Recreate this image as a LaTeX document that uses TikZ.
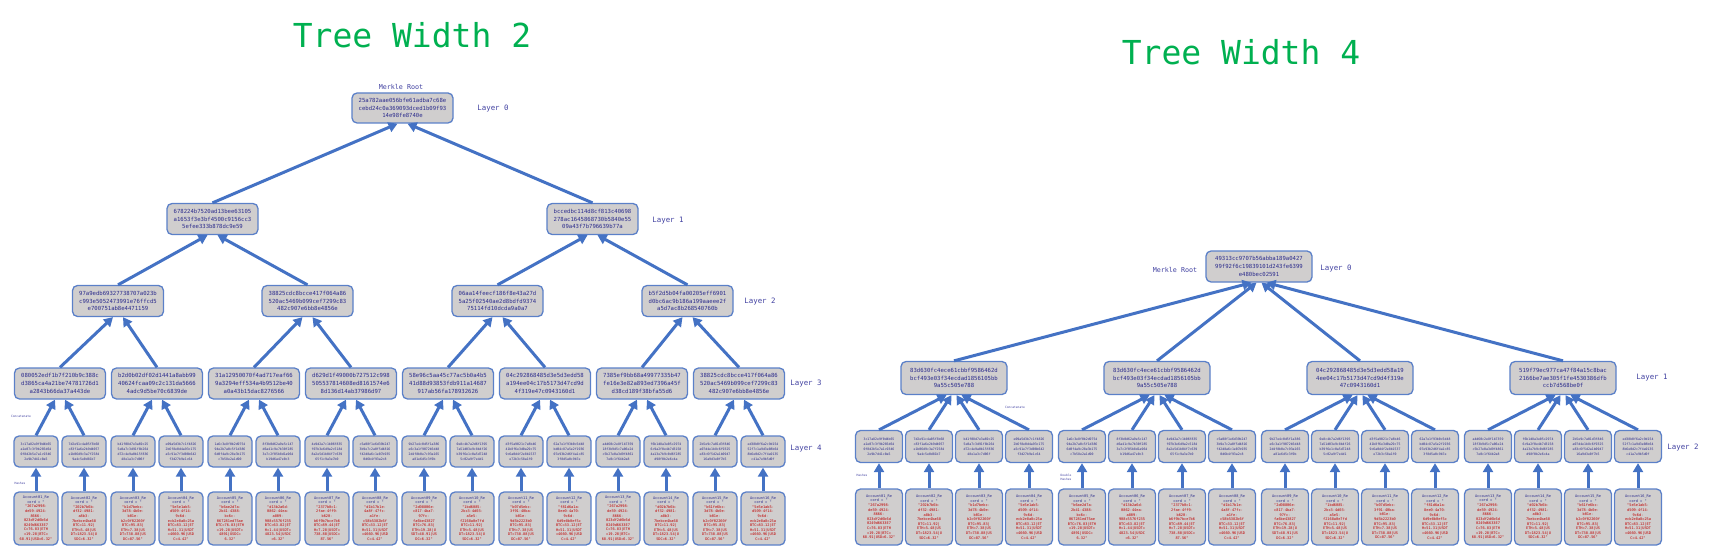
\documentclass[tikz,border=0pt]{standalone}
\usepackage{fontspec}
\newfontfamily\monof{DejaVu Sans Mono}
\usetikzlibrary{arrows.meta}
\definecolor{arrowblue}{HTML}{4472C4}
\definecolor{boxblue}{HTML}{5B80C8}
\definecolor{boxfill}{HTML}{D0CECE}
\definecolor{hashnavy}{HTML}{2B2B8C}
\definecolor{labelblue}{HTML}{4040A0}
\definecolor{leafred}{HTML}{C00000}
\definecolor{titlegreen}{HTML}{00B050}
\newcommand\defh[2]{\expandafter\def\csname hf#1\endcsname{#2}}
\newcommand\defleaf[9]{\expandafter\def\csname lf#1\endcsname{#2\\#3\\#4\\#5\\#6\\#7\\#8\\#9}}
\defh{1}{3c17a82e9f0d4b65\\a1e07c3f9b285d64\\0f8d2b5e7a1c9346\\2e9b7d41c0a5}
\defh{2}{7d2e91c4a05f3b68\\c83f1a6e2b9d4057\\e1b06d9c3a7f2584\\9a4c5e0d81b7}
\defh{3}{b41f08d7e3a69c25\\5e0a7c3d91f8b264\\d72c4e9a0b15f836\\48e1a3c7d06f}
\defh{4}{e09a5d3b7c1f4826\\2b6f8e0d4a93c175\\a5c91e7f3d08b642\\f3d27b9e1c64}
\defh{5}{1a6c3e8f0b2d9754\\94e2b7a0c5f1d386\\6d0f4a9c28e3b175\\c7b58e2a1d90}
\defh{6}{8f3b0d62a9e5c147\\d6a41c9e7b30f285\\3e7c2f05b8d1a964\\b19d6a47e0c3}
\defh{7}{4e9d2a7c1b06f835\\f07b3e6d9a2c5184\\8a2e5d1b04f7c639\\65f1c9a3e7b0}
\defh{8}{c5a08f1e6d39b247\\3b9e7c2a0f5d4816\\f42d8a6c1e07b935\\0d6b4f93a2c8}
\defh{9}{9b27e4c0d5f1a386\\e6c3a1f9072b5d48\\2d4f8b0e7c93a165\\a81e6d5c3f0b}
\defh{10}{0e8c4b7a2d6f1395\\7a51d03e9c8b4f26\\b39f6e1c0a5d7248\\5c02a9f7e4d1}
\defh{11}{d3f5a9021c7e8b46\\41b8f6e3d0a29c75\\9c6a0d4f2e8b1537\\e72b3c58a1f0}
\defh{12}{62a7e1f93b0c5d48\\bd04c87a5e2f1936\\07e93b2d6f4a1c85\\3f8d5a0c9b7e}
\defh{13}{a4d60c2e8f1b7359\\18f3b9d5c7a06e24\\c5b27e0a3d9f4861\\7e0c1f64b2a8}
\defh{14}{f6b1d8a3e05c2974\\6c9a2f0e4b7d3158\\4a13e7b9c0d6f285\\d98f0b2e6c4a}
\defh{15}{2b5e9c7a01d3f846\\a07d4e1b8c6f9325\\e83c6f5d2a1b0947\\16a9d3e0f7b5}
\defh{16}{ed38b0f6a2c9d154\\52f7c1a9d3e08b64\\8b6e0d2c7f4a9135\\c41a7e9b5d0f}
\defleaf{1}{"267a2998-}{de59-4924-}{8666-}{023df2d6b6d}{0249d6633E7}{C=76.83|ETH}{=19.28|BTC=}{68.91|USD=6.32"}
\defleaf{2}{"202b7b6b-}{df32-4981-}{a8b3-}{7bebce4ba68}{BTC=11.92|}{ETH=5.48|US}{DT=1823.54|U}{SDC=6.32"}
\defleaf{3}{"b1d7bebc-}{3d78-4b0e-}{b01e-}{b2c0f02260f}{BTC=95.83|}{ETH=7.38|US}{DT=738.88|US}{DC=87.56"}
\defleaf{4}{"5e5e1ab5-}{d509-4f14-}{9c6d-}{ecb2e8a8c25a}{BTC=83.12|ET}{H=51.31|USDT}{=4660.96|USD}{C=4.42"}
\defleaf{5}{"b6ae2d7a-}{2b41-4388-}{bc6c-}{067281ed75ae}{BTC=76.83|ETH}{=19.28|USDT=}{4891|USDC=}{6.32"}
\defleaf{6}{"d13b2a6d-}{0862-44ea-}{a809-}{908c5576f235}{BTC=63.82|ET}{H=1.44|USDT=}{4823.54|USDC}{=6.32"}
\defleaf{7}{"2377b0c1-}{2fae-4ff9-}{b620-}{b6f9b7bce7b6}{BTC=89.44|ET}{H=7.28|USDT=}{738.88|USDC=}{87.56"}
\defleaf{8}{"d1b17b1e-}{4a8f-47fc-}{a1fe-}{c58b5382b6f}{BTC=33.12|ET}{H=51.31|USDT}{=4660.96|USD}{C=4.42"}
\defleaf{9}{"2d08806e-}{c817-4ba7-}{97fc-}{fa6be43827}{BTC=76.83|}{ETH=19.28|U}{SDT=48.91|US}{DC=6.32"}
\defleaf{10}{"1bd6085-}{2bc3-4d03-}{a5e5-}{f2168a0e7fd}{BTC=11.92|}{ETH=5.48|US}{DT=1823.54|U}{SDC=6.32"}
\defleaf{11}{"b07d5ebc-}{3f91-40ba-}{b01e-}{9d5b2223b0}{BTC=95.83|}{ETH=7.38|US}{DT=738.88|US}{DC=87.56"}
\defleaf{12}{"f81d6a1a-}{8ee0-4a70-}{9c6d-}{6d9e8b0ef5c}{BTC=33.12|ET}{H=51.31|USDT}{=4660.96|USD}{C=4.42"}
\defleaf{13}{"267a2998-}{de59-4924-}{8666-}{023df2d6b6d}{0249d6633E7}{C=76.83|ETH}{=19.28|BTC=}{68.91|USD=6.32"}
\defleaf{14}{"d02b7b6b-}{df32-4981-}{a8b3-}{7bebce4ba68}{BTC=11.92|}{ETH=5.48|US}{DT=1823.54|U}{SDC=6.32"}
\defleaf{15}{"b61fe6bc-}{3d78-4b0e-}{b01e-}{b2c0f02260f}{BTC=95.83|}{ETH=7.38|US}{DT=738.88|US}{DC=87.56"}
\defleaf{16}{"5e5e1ab5-}{d509-4f14-}{9c6d-}{ecb2e8a8c25a}{BTC=83.12|ET}{H=51.31|USDT}{=4660.96|USD}{C=4.42"}
\newcommand\leaftext[1]{\textcolor{hashnavy}{Account\ifnum#1<10 0\fi#1\_Re}\\\textcolor{hashnavy}{cord = "}\\\csname lf#1\endcsname}
\tikzset{
  hbox/.style={draw=boxblue, line width=1.3pt, fill=boxfill, rounded corners=5pt, align=center, inner sep=1pt, text=hashnavy, font=\monof\fontsize{5.6}{7.6}\selectfont},
  bigbox/.style={hbox, minimum width=91pt, minimum height=31pt},
  smallbox/.style={hbox, minimum width=44pt, minimum height=31pt, font=\monof\fontsize{3.2}{5}\selectfont},
  leafbox/.style={hbox, minimum width=44pt, minimum height=53pt, text=leafred, font=\monof\fontsize{3.6}{4.6}\selectfont},
  conn/.style={draw=arrowblue, line width=3pt, -{Triangle[length=9pt,width=10pt]}},
  lab/.style={text=labelblue, font=\monof\fontsize{7.4}{9}\selectfont},
  tinylab/.style={text=labelblue, font=\monof\fontsize{3}{3.8}\selectfont, align=left},
  titlelab/.style={text=titlegreen, font=\monof\fontsize{33}{36}\selectfont},
}
\begin{document}
\begin{tikzpicture}[x=1pt,y=-1pt]
\useasboundingbox (0,0) rectangle (1713,548);
% titles
\node[titlelab] (t2) at (412,35) {Tree Width 2};
\node[titlelab] (t4) at (1241,52) {Tree Width 4};

% ===== left tree (width 2) =====
\node[bigbox, minimum width=101pt, minimum height=30pt] (lroot) at (402.5,108) {25a782aae056bfe61adba7c68e\\cebd24c0a369093dced1b09f93\\14e98fe8740e};
\node[lab, font=\monof\fontsize{6.7}{8}\selectfont] (lmr) at (401,87) {Merkle Root};
\node[lab] (ll0) at (493,109) {Layer 0};
\node[bigbox] (l1-1) at (212.5,219) {678224b7520ad13bee63105\\a1653f3e3bf4500c9156cc3\\5efee333b878dc9e59};
\node[bigbox] (l1-2) at (592.5,219) {bccedbc114d8cf813c40698\\278ac1645868730b5840e55\\09a43f7b796639b77a};
\node[lab] (ll1) at (668,221) {Layer 1};
\node[bigbox] (l2-1) at (118,301) {97a9edb69327738707a023b\\c993e5052473991e76ffcd5\\e700751ab8e4471159};
\node[bigbox] (l2-2) at (307.5,301) {38825cdc8bcce417f064a86\\520ac5469b099cef7299c83\\482c907e6bb8e4856e};
\node[bigbox] (l2-3) at (497.5,301) {06aa14feecf186f8e43a27d\\5a25f02540ae2d8bdfd9374\\75114fd10dcda9a0a7};
\node[bigbox] (l2-4) at (687.5,301) {b5f2d5b04fa00205eff6901\\d0bc6ac9b186a199aaeee2f\\a5d7ac8b268540760b};
\node[lab] (ll2) at (760,302) {Layer 2};
\node[bigbox] (l3-1) at (60,383.5) {080052edf1b7f210b9c388c\\d3865ca4a21be74781726d1\\a2843b66da37a443de};
\node[bigbox] (l3-2) at (157,383.5) {b2d0b02df02d1441a8abb99\\40624fcaa09c2c131da5666\\4adc9d5be70c6839de};
\node[bigbox] (l3-3) at (254,383.5) {31a12950070f4ad717eaf66\\9a3294eff534a4b9512be40\\a0a43b15dac8276566};
\node[bigbox] (l3-4) at (351,383.5) {d629d1f49000b727512c998\\505537814608ed8161574e6\\8d136d14ab37986d97};
\node[bigbox] (l3-5) at (448,383.5) {58e96c5aa45c77ac5b0a4b5\\41d88d93853fdb911a14687\\917ab56fa178932626};
\node[bigbox] (l3-6) at (545,383.5) {04c292868485d3e5d3edd58\\a194ee04c17b5173d47cd9d\\4f319e47c0943160d1};
\node[bigbox] (l3-7) at (642,383.5) {7385ef9bb68a49977335b47\\fe16e3e82a893ed7396a45f\\d38cd189f38bfa55d6};
\node[bigbox] (l3-8) at (739,383.5) {38825cdc8bcce417f064a86\\520ac5469b099cef7299c83\\482c907e6bb8e4856e};
\node[lab] (ll3) at (806,383.5) {Layer 3};
\node[lab] (ll4) at (806,449) {Layer 4};
\node[tinylab] (lcat) at (21,416) {Concatenate};
\node[tinylab] (lhsh) at (20,483) {Hashes};
\foreach \i in {1,...,16}{
  \pgfmathsetmacro\xx{60+97*floor((\i-1)/2)+48*mod(\i-1,2)-24}
  \node[smallbox] (l4-\i) at (\xx,451.5) {\csname hf\i\endcsname};
  \node[leafbox] (lleaf-\i) at (\xx,518.5) {\leaftext{\i}};
  \draw[conn] (lleaf-\i.north) -- (l4-\i.south);
}
\foreach \k in {1,...,8}{
  \pgfmathtruncatemacro\a{2*\k-1}
  \pgfmathtruncatemacro\b{2*\k}
  \draw[conn] (l4-\a.north) -- ([xshift=-5pt]l3-\k.south);
  \draw[conn] (l4-\b.north) -- ([xshift=5pt]l3-\k.south);
}
\foreach \k in {1,...,4}{
  \pgfmathtruncatemacro\a{2*\k-1}
  \pgfmathtruncatemacro\b{2*\k}
  \draw[conn] (l3-\a.north) -- ([xshift=-5pt]l2-\k.south);
  \draw[conn] (l3-\b.north) -- ([xshift=5pt]l2-\k.south);
}
\foreach \k in {1,2}{
  \pgfmathtruncatemacro\a{2*\k-1}
  \pgfmathtruncatemacro\b{2*\k}
  \draw[conn] (l2-\a.north) -- ([xshift=-5pt]l1-\k.south);
  \draw[conn] (l2-\b.north) -- ([xshift=5pt]l1-\k.south);
}
\draw[conn] (l1-1.north) -- ([xshift=-5pt]lroot.south);
\draw[conn] (l1-2.north) -- ([xshift=5pt]lroot.south);

% ===== right tree (width 4) =====
\node[bigbox, minimum width=106pt, minimum height=31pt] (rroot) at (1259,266.5) {49313cc9707b56abba189a0427\\99f92f6c19839101d243fe6399\\e480bec02591};
\node[lab, font=\monof\fontsize{6.7}{8}\selectfont] (rmr) at (1175,270) {Merkle Root};
\node[lab] (rl0) at (1336,269) {Layer 0};
\node[bigbox, minimum width=106pt, minimum height=33pt] (r1-1) at (954,378) {83d630fc4ece61cbbf9586462d\\bcf493e03f34ecdad1856105bb\\9a55c505e788};
\node[bigbox, minimum width=106pt, minimum height=33pt] (r1-2) at (1157,378) {83d630fc4ece61cbbf9586462d\\bcf493e03f34ecdad1856105bb\\9a55c505e788};
\node[bigbox, minimum width=106pt, minimum height=33pt] (r1-3) at (1360,378) {04c292868485d3e5d3edd58a19\\4ee04c17b5173d47cd9d4f319e\\47c0943160d1};
\node[bigbox, minimum width=106pt, minimum height=33pt] (r1-4) at (1563,378) {519f79ec977ca47f84a15c8bac\\2166be7ae305f1fe4530386dfb\\ccb7d568be0f};
\node[lab] (rl1) at (1652,378) {Layer 1};
\node[lab] (rl2) at (1683,448) {Layer 2};
\node[tinylab] (rcat) at (1015,407) {Concatenate};
\node[tinylab] (rhsh) at (862,475) {Hashes};
\node[tinylab] (rhsh2) at (1066,477) {Double\\Hashes};
\foreach \i in {1,...,16}{
  \pgfmathsetmacro\xx{954+203*floor((\i-1)/4)+50*mod(\i-1,4)-75}
  \node[smallbox, minimum width=47pt, minimum height=32pt] (r2-\i) at (\xx,446.5) {\csname hf\i\endcsname};
  \node[leafbox, minimum width=47pt, minimum height=56pt] (rleaf-\i) at (\xx,517) {\leaftext{\i}};
  \draw[conn] (rleaf-\i.north) -- (r2-\i.south);
}
\foreach \k in {1,...,4}{
  \pgfmathtruncatemacro\a{4*\k-3}
  \pgfmathtruncatemacro\b{4*\k-2}
  \pgfmathtruncatemacro\c{4*\k-1}
  \pgfmathtruncatemacro\d{4*\k}
  \draw[conn] (r2-\a.north) -- ([xshift=-7.5pt]r1-\k.south);
  \draw[conn] (r2-\b.north) -- ([xshift=-2.5pt]r1-\k.south);
  \draw[conn] (r2-\c.north) -- ([xshift=2.5pt]r1-\k.south);
  \draw[conn] (r2-\d.north) -- ([xshift=7.5pt]r1-\k.south);
}
\draw[conn] (r1-1.north) -- ([xshift=-7.5pt]rroot.south);
\draw[conn] (r1-2.north) -- ([xshift=-2.5pt]rroot.south);
\draw[conn] (r1-3.north) -- ([xshift=2.5pt]rroot.south);
\draw[conn] (r1-4.north) -- ([xshift=7.5pt]rroot.south);
\end{tikzpicture}
\end{document}
